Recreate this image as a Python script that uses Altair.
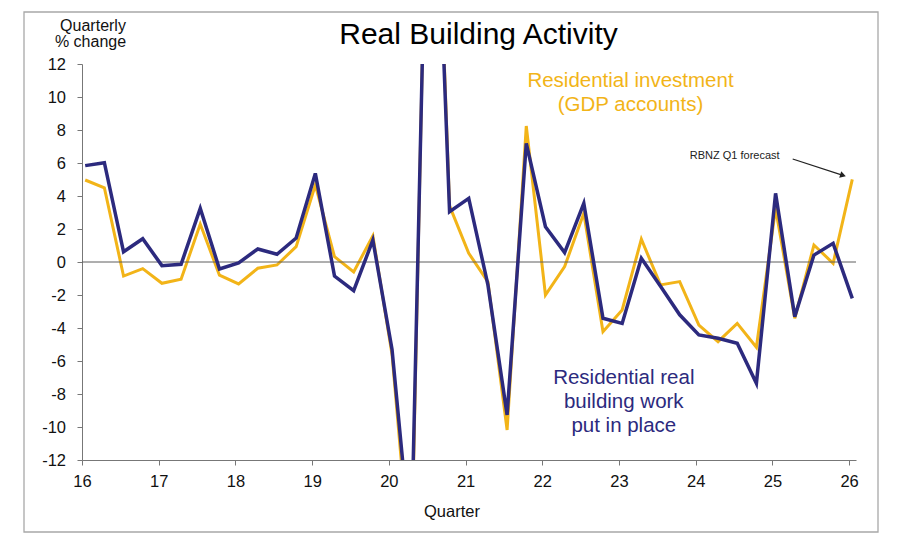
import altair as alt
import pandas as pd

# Quarterly % change, Q1 2016 .. Q1 2026
navy_vals = [5.84, 6.02, 0.62, 1.41, -0.22, -0.14, 3.25, -0.42, -0.05, 0.79,
             0.47, 1.45, 5.37, -0.85, -1.74, 1.33, -5.3, -17.5, 33.7, 3.05,
             3.86, -1.39, -9.27, 7.19, 2.14, 0.57, 3.56, -3.41, -3.72, 0.22,
             -1.47, -3.2, -4.42, -4.62, -4.93, -7.35, 4.16, -3.31, 0.42, 1.13,
             -2.2]
gold_vals = [4.97, 4.5, -0.85, -0.4, -1.29, -1.05, 2.3, -0.8, -1.33, -0.38,
             -0.18, 0.93, 4.67, 0.32, -0.6, 1.58, -5.6, -19.0, 35.0, 3.4,
             0.53, -1.2, -10.18, 8.24, -2.0, -0.28, 2.95, -4.22, -2.91, 1.38,
             -1.39, -1.19, -3.82, -4.83, -3.72, -5.17, 3.25, -3.41, 1.03, -0.08,
             5.01]
year_ticks = list(range(16, 27))
y_ticks = list(range(-12, 13, 2))

# each quarter is placed mid-month of its first month
qtr = [16 + i / 4 + 1 / 24 for i in range(len(navy_vals))]

NAVY = "#2C2A7E"
GOLD = "#F2B418"
FONT = "Liberation Sans"

df = pd.DataFrame({"qtr": qtr, "navy": navy_vals, "gold": gold_vals})

x_scale = alt.Scale(domain=[16, 26.09], nice=False, zero=False)
x_axis = alt.Axis(values=year_ticks, format="d", title=None, grid=False,
                  labelFontSize=16.5, labelFont=FONT, labelColor="#111",
                  labelPadding=8, tickSize=5, domainColor="#777",
                  tickColor="#777", labelFlush=False, labelOverlap=False)
y_scale = alt.Scale(domain=[-12, 12], nice=False)
y_axis = alt.Axis(values=y_ticks, title=None, grid=False, labelFontSize=16.5,
                  labelFont=FONT, labelColor="#111", labelPadding=11.5, tickSize=5,
                  domainColor="#777", tickColor="#777", labelOverlap=False,
                  labelExpr="datum.value + ''")

base = alt.Chart(df)
gold_line = base.mark_line(color=GOLD, strokeWidth=3, clip=True).encode(
    x=alt.X("qtr:Q", scale=x_scale, axis=x_axis),
    y=alt.Y("gold:Q", scale=y_scale, axis=y_axis))
navy_line = base.mark_line(color=NAVY, strokeWidth=3.5, clip=True).encode(
    x=alt.X("qtr:Q", scale=x_scale, axis=x_axis),
    y=alt.Y("navy:Q", scale=y_scale, axis=y_axis))

zero = alt.Chart(pd.DataFrame({"z": [0]})).mark_rule(
    color="#5f5f5f", strokeWidth=1).encode(
    y=alt.Y("z:Q", scale=y_scale, axis=y_axis))

one = pd.DataFrame({"a": [0]})


def label(text, x, y, size, color, **kw):
    return alt.Chart(one).mark_text(
        text=text, font=FONT, fontSize=size, color=color, align="center",
        baseline="alphabetic", **kw).encode(x=alt.value(x), y=alt.value(y))


frame = alt.Chart(one).mark_rect(fillOpacity=0, stroke="#a8a8a8", strokeWidth=1.3).encode(
    x=alt.value(-58), x2=alt.value(796), y=alt.value(-52), y2=alt.value(468))

title = label("Real Building Activity", 396.5, -20, 30, "#000")
ytitle_1 = label("Quarterly", 11, -33, 16, "#111")
ytitle_2 = label("% change", 8.5, -17.5, 16, "#111")
xtitle = label("Quarter", 370, 453, 16.5, "#111")
gold_lbl = label(["Residential investment", "(GDP accounts)"], 548.5, 23, 20.5, GOLD,
                 lineHeight=23.5)
navy_lbl = label(["Residential real", "building work", "put in place"], 541.8, 320,
                 20.5, NAVY, lineHeight=24)
fc_lbl = label("RBNZ Q1 forecast", 652.7, 95, 11, "#222")

arrow_line = alt.Chart(one).mark_rule(color="#222", strokeWidth=1.3).encode(
    x=alt.value(710.7), y=alt.value(95), x2=alt.value(761), y2=alt.value(111.4))
arrow_head = alt.Chart(one).mark_point(
    shape="triangle-right", filled=True, color="#222", size=45, angle=18,
    opacity=1).encode(x=alt.value(761), y=alt.value(111.4))

chart = alt.layer(
    frame, gold_line, zero, navy_line, title, ytitle_1, ytitle_2, xtitle, gold_lbl,
    navy_lbl, fc_lbl, arrow_line, arrow_head
).properties(
    width=774, height=396,
    autosize=alt.AutoSizeParams(type="none"),
    padding={"left": 82, "top": 64, "right": 44, "bottom": 85},
    background="white",
).configure_view(stroke=None)

chart.save("out.html", embed_options={"renderer": "svg", "actions": False})
